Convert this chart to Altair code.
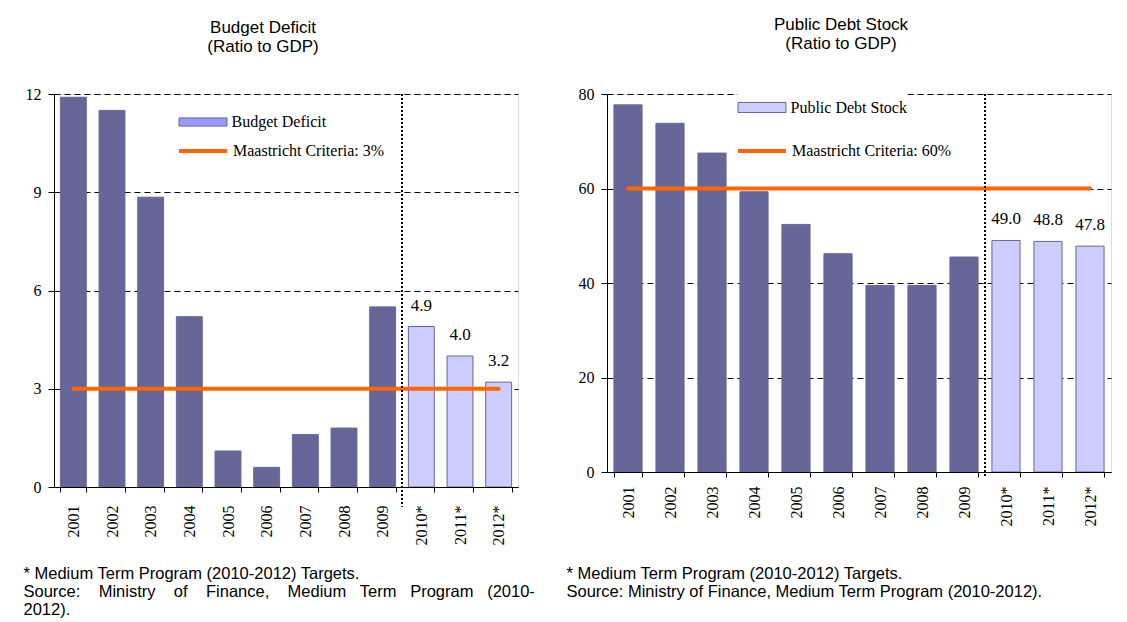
import altair as alt
import pandas as pd

years = ["2001", "2002", "2003", "2004", "2005", "2006", "2007", "2008", "2009", "2010*", "2011*", "2012*"]
kind = ["actual", "actual", "actual", "actual", "actual", "actual", "actual", "actual", "actual", "target", "target", "target"]
deficit = [11.9, 11.5, 8.85, 5.2, 1.1, 0.6, 1.6, 1.8, 5.5, 4.9, 4.0, 3.2]
debt = [77.7, 73.8, 67.5, 59.3, 52.4, 46.2, 39.5, 39.5, 45.5, 49.0, 48.8, 47.8]
crit_deficit = [3, 3, 3, 3, 3, 3, 3, 3, 3, 3, 3, 3]
crit_debt = [60, 60, 60, 60, 60, 60, 60, 60, 60, 60, 60, 60]
ticks_deficit = [0, 3, 6, 9, 12]
ticks_debt = [0, 20, 40, 60, 80]

SERIF = "Liberation Serif, Times New Roman, serif"
SANS = "Liberation Sans, Arial, sans-serif"
DARK = "#666699"
LIGHT = "#ccccff"
ORANGE = "#ff6600"
PAD_IN = 0.33
NB = "\u00a0"


def panel(values, crit, yticks, bar_label, crit_label, swatch, title_lines, foot_lines,
          width, height, below, lab_pad, title_dx, foot_x, foot_y,
          sw_xy, sw_h, ln_xy, sw_fill):
    ymax = yticks[-1]
    step = width / len(years)
    df = pd.DataFrame({"year": years, "kind": kind, "value": values, "crit": crit})
    base = alt.Chart(df)
    xscale = alt.Scale(domain=years, paddingInner=PAD_IN, paddingOuter=PAD_IN / 2)
    xaxis = alt.Axis(
        labelAngle=-90, labelFont=SERIF, labelFontSize=16, labelColor="black",
        labelPadding=lab_pad, tickBand="extent", tickSize=5, tickColor="black",
        domainColor="black", grid=False, zindex=1,
        title=foot_lines, titleFont=SANS, titleFontSize=16.5, titleFontWeight="normal",
        titleColor="black", titleAlign="left", titleBaseline="alphabetic",
        titleX=foot_x, titleY=foot_y, titleLineHeight=18,
    )
    yscale = alt.Scale(domain=[0, ymax], nice=False, zero=True)
    yaxis = alt.Axis(
        values=yticks, title=None, labelFont=SERIF, labelFontSize=16, labelColor="black",
        labelPadding=7, tickSize=6, tickColor="black", domainColor="black",
        grid=True, gridColor="black", gridDash=[6, 4], gridWidth=1,
    )
    x = alt.X("year:N", sort=years, scale=xscale, axis=xaxis)

    bars = base.mark_bar(stroke=DARK, strokeWidth=1).encode(
        x=x,
        y=alt.Y("value:Q", scale=yscale, axis=yaxis),
        fill=alt.Fill("kind:N", scale=alt.Scale(domain=["actual", "target"], range=[DARK, LIGHT]), legend=None),
    )

    sw_size = 48 * 48
    legend_bar = base.transform_calculate(lg=f"'{bar_label}'").transform_filter("false").mark_bar().encode(
        color=alt.Color("lg:N", scale=alt.Scale(domain=[bar_label], range=[swatch]),
                        legend=alt.Legend(
                            title=None, orient="none", legendX=sw_xy[0], legendY=sw_xy[1],
                            symbolType=f"M-1,-{sw_h}H1V{sw_h}H-1Z", symbolSize=sw_size,
                            symbolStrokeColor=DARK, symbolStrokeWidth=1, symbolOpacity=1,
                            labelFont=SERIF, labelFontSize=16, labelColor="black", labelOffset=4,
                            labelLimit=400, fillColor=sw_fill,
                        ))
    )

    line = base.transform_calculate(lg2=f"'{crit_label}'").mark_line(strokeWidth=4, strokeCap="round").encode(
        x=x,
        y=alt.Y("crit:Q", scale=yscale, axis=yaxis),
        stroke=alt.Stroke("lg2:N", scale=alt.Scale(domain=[crit_label], range=[ORANGE]),
                          legend=alt.Legend(
                              title=None, orient="none", legendX=ln_xy[0], legendY=ln_xy[1],
                              symbolType="stroke", symbolSize=sw_size, symbolStrokeWidth=4,
                              labelFont=SERIF, labelFontSize=16, labelColor="black", labelOffset=4,
                              labelLimit=400,
                          )),
    )

    sep = alt.Chart(pd.DataFrame({"year": [years[9]]})).mark_rule(
        color="black", strokeWidth=2, strokeDash=[2, 2], xOffset=-step * PAD_IN / 2
    ).encode(
        x=alt.X("year:N", sort=years, scale=xscale, axis=xaxis, bandPosition=0),
        y=alt.datum(ymax),
        y2=alt.datum(below),
    )

    labels = base.transform_filter("datum.kind == 'target'").mark_text(
        font=SERIF, fontSize=17, baseline="alphabetic", dy=-16, color="black"
    ).encode(
        x=x,
        y=alt.Y("value:Q", scale=yscale, axis=yaxis),
        text=alt.Text("value:Q", format=".1f"),
    )

    return alt.layer(bars, legend_bar, line, sep, labels).properties(
        width=width, height=height,
        title=alt.Title(text=title_lines, font=SANS, fontSize=17, fontWeight="normal", color="black",
                        anchor="middle", frame="group", dx=title_dx, offset=30.5, lineHeight=19),
    )


G3 = NB * 3 + " "
G2 = NB * 2 + " "
left = panel(
    deficit, crit_deficit, ticks_deficit, "Budget Deficit", "Maastricht Criteria: 3%", "#9999ff",
    ["Budget Deficit", "(Ratio to GDP)"],
    ["* Medium Term Program (2010-2012) Targets.",
     f"Source:{G3}Ministry{G3}of{G3}Finance,{G3}Medium{G2}Term{G2}Program{G2}(2010-",
     "2012)."],
    464, 393, -0.6, 13, -23, -31, 91,
    (124.5, 3.5), 0.17, (123, 31), None,
)
right = panel(
    debt, crit_debt, ticks_debt, "Public Debt Stock", "Maastricht Criteria: 60%", LIGHT,
    ["Public Debt Stock", "(Ratio to GDP)"],
    ["* Medium Term Program (2010-2012) Targets.",
     "Source: Ministry of Finance, Medium Term Program (2010-2012)."],
    504, 378, -1, 9, -18, -41, 106,
    (130.5, -11), 0.21, (129, 31), "white",
)

chart = alt.hconcat(left, right, spacing=29).resolve_scale(
    x="independent", y="independent", color="independent", stroke="independent", fill="independent"
).resolve_legend(color="independent", stroke="independent").properties(
    padding={"left": 14, "top": 7, "right": 0, "bottom": 0}
).configure_view(stroke=None).configure(background="white")

chart.save("out.html", embed_options={"renderer": "svg", "actions": False})
